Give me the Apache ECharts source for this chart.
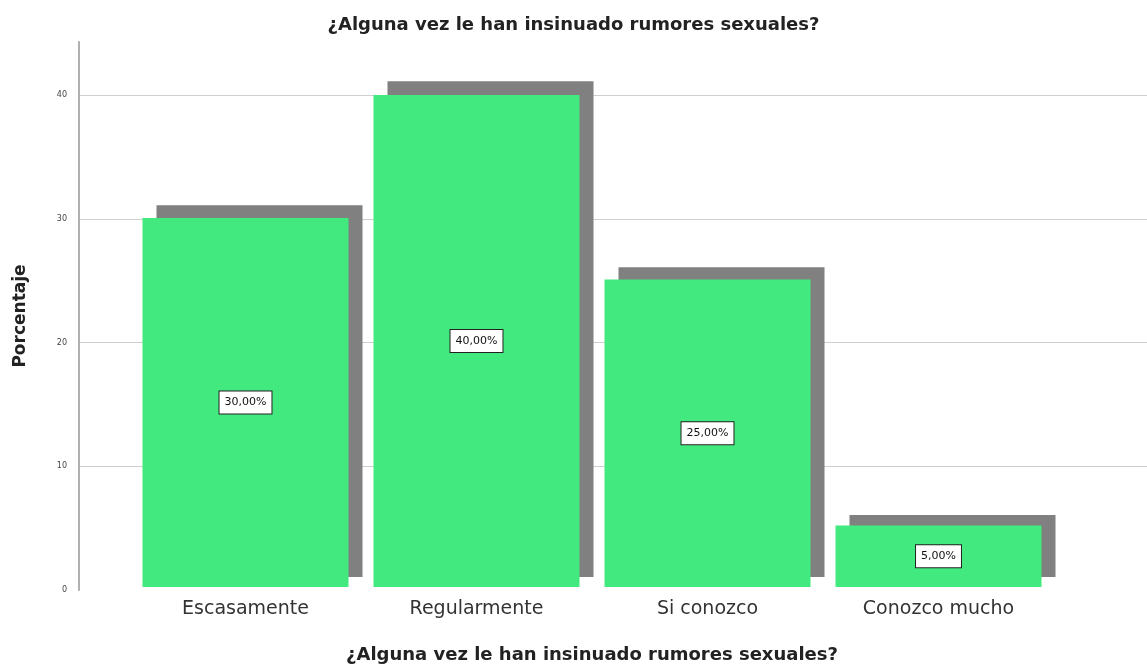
<!DOCTYPE html>
<html>
<head>
  <meta charset="utf-8">
  <title>Rumores sexuales</title>
  <style>
    html, body { margin: 0; padding: 0; background: #fff; }
    #main { width: 1147px; height: 669px; }
  </style>
</head>
<body>
<div id="main"></div>
<script src="https://cdn.jsdelivr.net/npm/echarts@6.0.0/dist/echarts.min.js"></script>
<script>
  // datos
  var categorias = ['Escasamente', 'Regularmente', 'Si conozco', 'Conozco mucho'];
  var porcentajes = [30, 40, 25, 5];
  var etiquetas = ['30,00%', '40,00%', '25,00%', '5,00%'];
  var titulo = '¿Alguna vez le han insinuado rumores sexuales?';

  var yMax = 44.3;
  var fuente = '"DejaVu Sans", sans-serif';

  var myChart = echarts.init(document.getElementById('main'));
  myChart.setOption({
    animation: false,
    textStyle: { fontFamily: fuente },
    title: {
      text: titulo,
      left: 'center',
      top: 11,
      textStyle: { fontSize: 18, fontWeight: 'bold', color: '#222', fontFamily: fuente }
    },
    grid: [
      // eje y y líneas de rejilla
      { left: 79, right: 0, top: 42, bottom: 79 },
      // sombra de las barras
      { left: 144, width: 924, top: 28, bottom: 92 },
      // barras
      { left: 130, width: 924, top: 42, bottom: 78 }
    ],
    xAxis: [
      { gridIndex: 0, type: 'category', data: categorias, show: false },
      { gridIndex: 1, type: 'category', data: categorias, show: false },
      {
        gridIndex: 2, type: 'category', data: categorias,
        axisLine: { show: false }, axisTick: { show: false },
        axisLabel: { fontSize: 19, color: '#333', margin: 13 },
        name: titulo, nameLocation: 'middle', nameGap: 59,
        nameTextStyle: { fontSize: 18, fontWeight: 'bold', color: '#222' }
      }
    ],
    yAxis: [
      {
        gridIndex: 0, type: 'value', min: 0, max: yMax, interval: 10,
        axisLine: { show: true, lineStyle: { color: '#b0b0b0', width: 2 } },
        axisTick: { show: false },
        axisLabel: { fontSize: 8, color: '#444', margin: 12, showMaxLabel: false },
        splitLine: { show: true, showMaxLine: false, showMinLine: false, lineStyle: { color: '#cfcfcf', width: 1 } },
        name: 'Porcentaje', nameLocation: 'middle', nameGap: 50,
        nameTextStyle: { fontSize: 17, fontWeight: 'bold', color: '#222' }
      },
      { gridIndex: 1, type: 'value', min: 0, max: yMax, show: false },
      { gridIndex: 2, type: 'value', min: 0, max: yMax, show: false }
    ],
    series: [
      {
        type: 'bar', xAxisIndex: 1, yAxisIndex: 1,
        data: porcentajes, barWidth: 206,
        itemStyle: { color: '#808080' },
        silent: true, z: 1
      },
      {
        type: 'bar', xAxisIndex: 2, yAxisIndex: 2,
        data: porcentajes, barWidth: 206,
        itemStyle: { color: '#42e97f' },
        z: 2,
        label: {
          show: true, position: 'inside',
          formatter: function (p) { return etiquetas[p.dataIndex]; },
          fontSize: 11, color: '#111',
          backgroundColor: '#fff', borderColor: '#222', borderWidth: 1,
          padding: [6, 5, 5, 5]
        }
      }
    ]
  });
</script>
</body>
</html>
